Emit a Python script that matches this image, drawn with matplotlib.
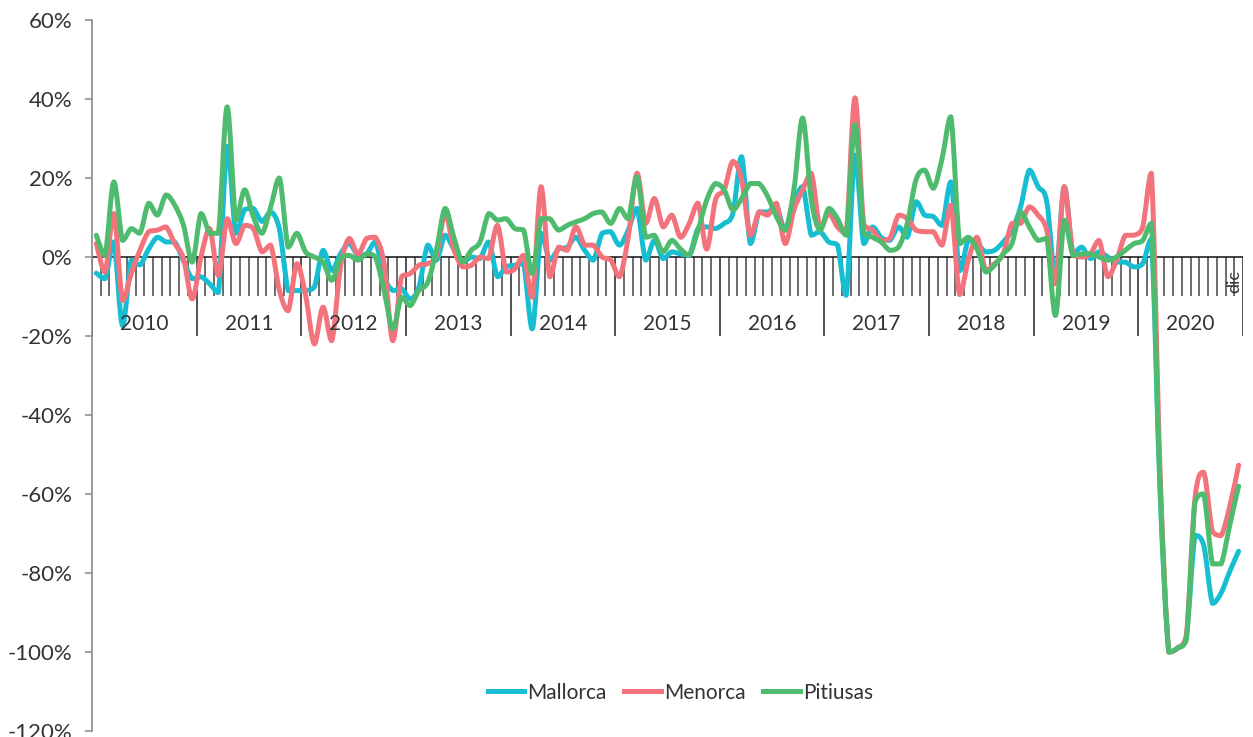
import numpy as np
import matplotlib
matplotlib.use("Agg")
import matplotlib.pyplot as plt
from matplotlib.path import Path
from matplotlib.patches import PathPatch
from matplotlib.lines import Line2D

# ---------------- data ----------------
years = [str(y) for y in range(2010, 2021)]
months_per_year = 12
last_month_label = "dic"
series_names = ["Mallorca", "Menorca", "Pitiusas"]

mallorca = [
    -4.1, -5.5, 3.8, -17.4, -0.8, -2.0, 2.0, 5.0, 3.8, 3.8, -1.0, -5.5,
    -5.0, -6.8, -9.0, 28.0, 6.0, 12.0, 12.3, 9.0, 11.4, 7.0, -8.5, -8.5,
    -8.5, -7.6, 1.7, -3.4, 0.8, 3.4, 0.4, 0.8, 3.8, -5.0, -8.5, -8.0,
    -10.6, -7.6, 3.0, -0.8, 5.5, 2.0, -1.3, 0.0, -0.4, 3.8, -5.0, -2.5,
    -2.1, -1.7, -18.2, 6.0, -0.8, 2.0, 2.5, 5.0, 1.7, -0.8, 6.0, 6.4,
    3.0, 6.8, 12.3, -0.8, 4.2, -0.4, 1.3, 0.8, 0.4, 7.2, 7.6, 7.2,
    8.5, 11.0, 25.4, 3.4, 11.4, 11.4, 12.7, 6.8, 13.6, 17.8, 5.5, 6.4,
    3.8, 3.0, -9.7, 25.8, 3.4, 7.6, 5.0, 4.2, 7.6, 5.0, 14.0, 10.6,
    10.2, 8.0, 19.0, -3.5, 4.2, 3.4, 1.3, 1.7, 3.8, 6.8, 12.7, 22.0,
    17.8, 14.0, -5.0, 17.8, 0.8, 2.5, -0.4, 1.3, 0.0, -1.3, -1.3, -2.5,
    -1.7, 4.5, -60.0, -100.0, -99.0, -96.0, -70.5, -73.0, -87.7, -85.0, -79.5, -74.5,
]

menorca = [
    3.4, -3.8, 11.0, -11.0, -4.2, 1.7, 6.4, 6.8, 7.6, 3.4, -0.4, -10.6,
    0.0, 7.2, -4.7, 9.7, 3.4, 8.0, 7.2, 1.3, 3.0, -8.5, -13.6, -1.7,
    -9.7, -22.0, -12.7, -21.2, -2.5, 4.7, 0.8, 4.7, 5.0, -1.7, -21.2, -5.0,
    -4.2, -2.1, -1.7, 0.4, 11.0, 2.0, -2.5, -2.1, 0.0, -0.4, 8.0, -3.8,
    -3.0, 0.4, -10.2, 17.8, -5.0, 2.5, 1.7, 7.6, 3.0, 3.0, 0.0, -0.8,
    -5.0, 5.0, 21.2, 8.5, 14.8, 7.6, 10.6, 5.0, 8.5, 13.6, 2.0, 14.4,
    17.0, 24.2, 19.5, 5.5, 11.4, 10.6, 13.6, 3.4, 11.9, 17.0, 21.2, 7.2,
    11.0, 7.6, 6.0, 40.3, 8.5, 6.8, 4.2, 4.7, 10.6, 9.7, 6.8, 6.4,
    6.4, 3.0, 13.1, -9.5, -0.8, 5.0, -3.4, -1.7, 0.8, 8.5, 8.5, 12.7,
    10.6, 6.8, -6.8, 17.8, 0.8, 0.0, 0.8, 4.2, -5.0, -0.8, 5.5, 5.5,
    7.6, 21.2, -55.0, -100.0, -99.0, -96.0, -61.0, -54.5, -69.5, -70.5, -63.0, -52.7,
]

pitiusas = [
    5.5, 0.4, 19.0, 4.2, 7.2, 6.0, 13.6, 10.6, 15.7, 13.1, 8.0, -1.3,
    11.0, 6.0, 6.0, 38.0, 9.3, 17.0, 10.2, 6.0, 12.7, 20.0, 2.5, 6.0,
    1.3, 0.0, -1.3, -5.9, -0.4, 0.4, -0.8, 0.8, 0.0, -8.5, -18.2, -10.2,
    -12.3, -8.5, -6.4, 1.7, 12.3, 5.0, -1.3, 1.7, 3.8, 11.0, 9.3, 9.7,
    7.2, 6.8, -4.2, 9.7, 9.7, 6.8, 8.0, 8.9, 9.7, 11.0, 11.4, 8.5,
    12.3, 9.7, 20.3, 5.0, 5.5, 1.3, 4.2, 2.0, 0.4, 6.8, 14.4, 18.6,
    17.0, 11.9, 14.8, 18.6, 18.6, 15.3, 10.2, 6.8, 17.0, 35.2, 14.4, 6.8,
    12.3, 9.7, 5.5, 33.5, 6.4, 5.0, 3.8, 1.7, 2.5, 8.5, 19.5, 22.0,
    17.4, 25.0, 35.5, 3.4, 5.0, 2.0, -3.8, -2.1, 0.8, 3.4, 11.4, 7.6,
    4.2, 4.7, -14.8, 9.3, 0.4, 0.8, 0.8, 0.0, -0.8, 0.0, 1.7, 3.4,
    4.2, 8.5, -58.0, -100.0, -99.0, -97.0, -62.0, -60.0, -77.7, -77.7, -67.7, -58.0,
]

y_ticks = [-120, -100, -80, -60, -40, -20, 0, 20, 40, 60]

# ---------------- style ----------------
colors = ["#17BED2", "#F3737D", "#4FBB6E"]
text_color = "#333333"
plt.rcParams["font.family"] = ["Lato", "DejaVu Sans"]


def smooth_path(xs, ys, t=1.0 / 6.0):
    """Cubic Bezier path through the data points (Excel-like smoothed line)."""
    n = len(xs)
    verts = [(xs[0], ys[0])]
    codes = [Path.MOVETO]
    for i in range(n - 1):
        p0 = (xs[i - 1], ys[i - 1]) if i > 0 else (xs[i], ys[i])
        p1 = (xs[i], ys[i])
        p2 = (xs[i + 1], ys[i + 1])
        p3 = (xs[i + 2], ys[i + 2]) if i + 2 < n else p2
        lo, hi = min(p1[1], p2[1]), max(p1[1], p2[1])
        c1y = min(max(p1[1] + (p2[1] - p0[1]) * t, lo), hi)
        c2y = min(max(p2[1] - (p3[1] - p1[1]) * t, lo), hi)
        c1 = (p1[0] + (p2[0] - p0[0]) * t, c1y)
        c2 = (p2[0] - (p3[0] - p1[0]) * t, c2y)
        verts += [c1, c2, p2]
        codes += [Path.CURVE4] * 3
    return Path(verts, codes)


fig = plt.figure(figsize=(12.53, 7.37), dpi=100)
ax = fig.add_axes([0.0734, 0.0081, 0.9186, 0.9648])

n_months = len(years) * months_per_year
ax.set_xlim(0, n_months)
ax.set_ylim(min(y_ticks), max(y_ticks))

x = np.arange(n_months) + 0.5
for vals, col in zip([mallorca, menorca, pitiusas], colors):
    p = smooth_path(x, vals)
    patch = PathPatch(p, fill=False, edgecolor=col, lw=3.6,
                      capstyle="round", joinstyle="round", zorder=3)
    ax.add_patch(patch)

# category axis at zero
ax.axhline(0, color="#111111", lw=1.1, zorder=2)
minor = [m for m in range(1, n_months) if m % months_per_year != 0]
ax.vlines(minor, -10, 0, color="#444444", lw=1.1, zorder=1)
major = list(range(0, n_months + 1, months_per_year))
ax.vlines(major, -20, 0, color="#222222", lw=1.1, zorder=1)
for k, yr in enumerate(years):
    ax.text(k * months_per_year + months_per_year / 2, -16.9, yr,
            ha="center", va="center", fontsize=15, color=text_color)
ax.text(n_months - 1.0, -6.3, last_month_label, rotation=90,
        ha="center", va="center", fontsize=13, color=text_color)

# y axis
for s in ["top", "right", "bottom"]:
    ax.spines[s].set_visible(False)
ax.spines["left"].set_color("#8a8a8a")
ax.spines["left"].set_linewidth(1.2)
ax.set_xticks([])
ax.set_yticks(y_ticks)
ax.set_yticklabels([f"{v}%" for v in y_ticks])
ax.tick_params(axis="y", length=5, width=1.1, color="#8a8a8a",
               labelsize=16, labelcolor=text_color, pad=9)

handles = [Line2D([0], [0], color=c, lw=3.6) for c in colors]
fig.legend(handles, series_names, loc="center", bbox_to_anchor=(0.543, 0.06),
           ncol=3, frameon=False, fontsize=15, handlelength=1.75,
           handletextpad=0.15, columnspacing=0.85,
           labelcolor=text_color)

fig.savefig("out.png", dpi=100)
